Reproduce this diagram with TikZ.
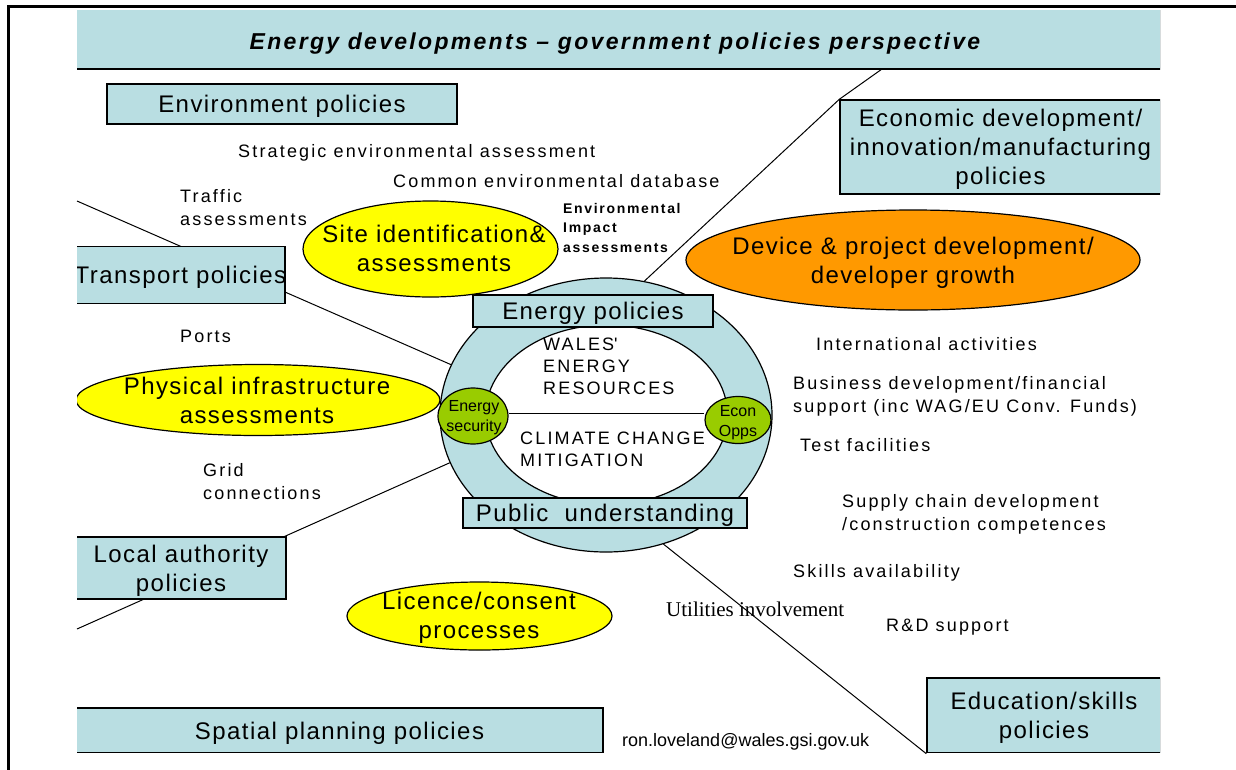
\documentclass[tikz,border=0pt]{standalone}
\usepackage{fontspec}
\setmainfont{Liberation Sans}
\newfontfamily\bigf[LetterSpace=6]{Liberation Sans}
\newfontfamily\smallf[LetterSpace=12]{Liberation Sans}
\newfontfamily\titlef[LetterSpace=10]{Liberation Sans}
\newfontfamily\plainf{Liberation Sans}
\newfontfamily\serf{Liberation Serif}
\usetikzlibrary{shapes.geometric}
\definecolor{pblue}{RGB}{185,222,226}
\definecolor{pyellow}{RGB}{255,255,0}
\definecolor{porange}{RGB}{255,153,0}
\definecolor{pgreen}{RGB}{153,204,0}
\pgfdeclarelayer{bg}
\pgfdeclarelayer{fg}
\pgfsetlayers{bg,main,fg}
\tikzset{
  pbox/.style={draw=black, line width=1.4pt, fill=pblue, rectangle, inner sep=0pt,
    align=center, text depth=0pt, font=\bigf\fontsize{24}{29}\selectfont},
  oneline/.style={text height=17.2pt, text depth=0pt},
  blob/.style={draw=black, line width=1.2pt, ellipse, inner sep=0pt},
  bigtxt/.style={inner sep=0pt, align=center, text depth=0pt, font=\bigf\fontsize{24}{29}\selectfont},
  smalltxt/.style={inner sep=0pt, align=left, font=\smallf\fontsize{18}{23}\selectfont},
  ringtxt/.style={inner sep=0pt, align=left, font=\smallf\fontsize{18}{22}\selectfont},
  tinytxt/.style={inner sep=0pt, align=center, font=\plainf\fontsize{16}{20}\selectfont},
  conn/.style={draw=black, line width=1pt},
}
\begin{document}
\begin{tikzpicture}[x=1pt,y=-1pt]
\useasboundingbox (0,0) rectangle (1236,769);
% outer frame
\draw[line width=3pt] (8.5,775) -- (8.5,6.5) -- (1245,6.5);

\begin{scope}
\clip (77,10) rectangle (1160,752.5);
% title
\node[pbox, minimum width=1085pt, minimum height=60pt] (title) at (618.5,39) {};
\node[inner sep=0pt, text height=16.5pt, text depth=0pt,
  font=\titlef\bfseries\itshape\fontsize{23}{29}\selectfont] (titletext) at (615,41)
  {Energy developments – government policies perspective};
% left policy boxes
\node[pbox, oneline, minimum width=350pt, minimum height=40pt] (envp) at (282,104) {Environment policies};
\node[pbox, oneline, minimum width=209pt, minimum height=57pt] (transp) at (180.5,275) {\makebox[0pt][c]{Transport policies}};
\node[pbox, minimum width=210pt, minimum height=62pt] (local) at (181,568) {Local authority\\policies};
\node[pbox, oneline, minimum width=527pt, minimum height=45pt] (spatial) at (339.5,730.5) {Spatial planning policies};
% right policy boxes
\node[pbox, minimum width=321pt, minimum height=94pt] (econbox) at (1000.5,147) {Economic development/\\innovation/manufacturing\\policies};
\node[pbox, minimum width=234pt, minimum height=75pt] (edu) at (1044,715.5) {Education/skills\\policies};
% physical infrastructure (under ring)
\node[blob, fill=pyellow, minimum width=364pt, minimum height=71pt] (phys) at (258,400) {};
\node[bigtxt] (physT) at (257,400) {Physical infrastructure\\assessments};
% ring
\node[draw=black, line width=1.2pt, fill=pblue, ellipse, inner sep=0pt,
  minimum width=332pt, minimum height=274pt] (ring) at (606,415) {};
\node[draw=black, line width=1.2pt, fill=white, ellipse, inner sep=0pt,
  minimum width=242pt, minimum height=180pt] (core) at (606.5,415) {};
\node[ringtxt, anchor=north west] (wales) at (543,338.2) {WALES\textquotesingle\\ENERGY\\RESOURCES};
\node[ringtxt, anchor=north west] (climate) at (520,432.2) {CLIMATE CHANGE\\MITIGATION};
\node[pbox, oneline, minimum width=240pt, minimum height=32pt] (energyp) at (593,311) {Energy policies};
\node[pbox, oneline, minimum width=284pt, minimum height=30pt] (public) at (605,513) {Public\ \ understanding};
% other ellipses
\node[blob, fill=pyellow, minimum width=255pt, minimum height=96pt] (site) at (430.5,249) {};
\node[bigtxt] (siteT) at (434,248) {Site identification\&\\assessments};
\node[blob, fill=porange, minimum width=454pt, minimum height=100pt] (device) at (913,260) {};
\node[bigtxt] (deviceT) at (913,260) {Device \& project development/\\developer growth};
\node[blob, fill=pyellow, minimum width=265pt, minimum height=68pt] (licence) at (479.5,616) {};
\node[bigtxt] (licenceT) at (479,615) {Licence/consent\\processes};
% small texts, left and top
\node[smalltxt, anchor=base west] (sea) at (238,157) {Strategic environmental assessment};
\node[smalltxt, anchor=base west] (ced) at (393,187) {Common environmental database};
\node[smalltxt, anchor=north west] (traffic) at (180,189.2) {Traffic\\assessments};
\node[inner sep=0pt, align=left, anchor=north west, font=\smallf\bfseries\fontsize{14}{19.5}\selectfont]
  (eia) at (563,203) {Environmental\\Impact\\assessments};
\node[smalltxt, anchor=base west] (ports) at (180,342) {Ports};
\node[smalltxt, anchor=north west] (grid) at (203,463.2) {Grid\\connections};
% small texts, right
\node[smalltxt, anchor=base west] (intl) at (816,350) {International activities};
\node[smalltxt, anchor=north west] (busdev) at (793,376.2) {Business development/financial\\support (inc WAG/EU Conv. Funds)};
\node[smalltxt, anchor=base west] (test) at (800,451) {Test facilities};
\node[smalltxt, anchor=north west] (supply) at (842,494.2) {Supply chain development\\/construction competences};
\node[smalltxt, anchor=base west] (skills) at (793,577) {Skills availability};
\node[inner sep=0pt, anchor=base west, font=\serf\fontsize{21}{25}\selectfont] (util) at (666,616) {Utilities involvement};
\node[smalltxt, anchor=base west] (rd) at (886,631) {R\&D support};
\node[inner sep=0pt, anchor=base west, font=\plainf\fontsize{18}{22}\selectfont] (email) at (622,746) {ron.loveland@wales.gsi.gov.uk};
\end{scope}

% green ellipses on top of the ring
\begin{pgfonlayer}{fg}
\node[blob, fill=pgreen, minimum width=70pt, minimum height=56pt] (esec) at (473,416) {};
\node[tinytxt] (esecT) at (474,418) {Energy\\security};
\node[blob, fill=pgreen, minimum width=66pt, minimum height=47pt] (eopps) at (738,420) {};
\node[tinytxt] (eoppsT) at (738,423) {Econ\\Opps};
\end{pgfonlayer}

% line across the ring
\coordinate (mid) at (600,413);
\draw[conn] (esec.east |- mid) -- (eopps.west |- mid);

% connectors behind everything
\coordinate (tlc) at (77,201);
\coordinate (blc) at (77,629);
\coordinate (tt) at (882,69);
\begin{pgfonlayer}{bg}
\draw[conn] (tlc) -- (ring.162);
\draw[conn] (blc) -- (ring.197);
\draw[conn] (ring.74) -- (econbox.north west) -- (tt);
\draw[conn] (ring.294) -- (edu.south west);
\end{pgfonlayer}
\end{tikzpicture}
\end{document}
